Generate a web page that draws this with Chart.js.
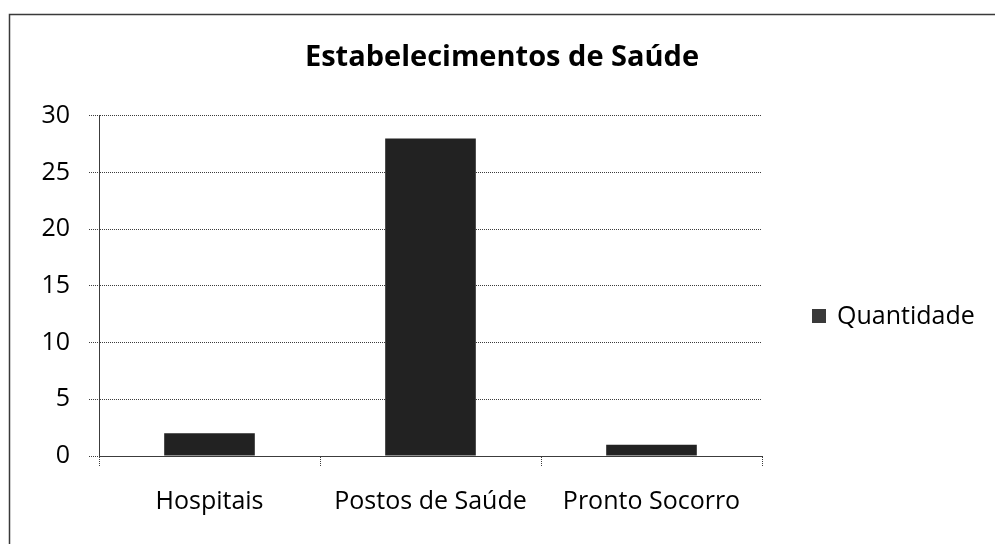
<!DOCTYPE html>
<html>
<head>
<meta charset="utf-8">
<script src="https://cdn.jsdelivr.net/npm/chart.js@4/dist/chart.umd.min.js"></script>
<style>
  html, body { margin: 0; padding: 0; background: #ffffff; }
  #wrap { width: 995px; height: 544px; position: relative; }
</style>
</head>
<body>
<div id="wrap"><canvas id="chart" width="995" height="544"></canvas></div>
<script>
// Chart content
const chartTitle = 'Estabelecimentos de Saúde';
const categories = ['Hospitais', 'Postos de Saúde', 'Pronto Socorro'];
const seriesName = 'Quantidade';
const quantidade = [2, 28, 1];
const yTicks = [0, 5, 10, 15, 20, 25, 30];

const FONT = '"Open Sans", "Noto Sans", sans-serif';
const BAR_COLOR = '#222222';
const GRID_COLOR = '#3c3c3c';
const DOTS = [1, 1];

// Thin outer frame of the chart object (left and top edges)
const framePlugin = {
  id: 'frame',
  beforeDraw(chart) {
    const ctx = chart.ctx;
    ctx.save();
    ctx.strokeStyle = '#3a3a3a';
    ctx.lineWidth = 1.5;
    ctx.beginPath();
    ctx.moveTo(9.5, chart.height);
    ctx.lineTo(9.5, 14.5);
    ctx.lineTo(chart.width, 14.5);
    ctx.stroke();
    ctx.restore();
  }
};

// Legend drawn as its own layout box on the right side
const sideLegendPlugin = {
  id: 'sideLegend',
  beforeInit(chart) {
    const box = {
      position: 'right',
      weight: 100,
      fullSize: false,
      options: {},
      left: 0, top: 0, right: 0, bottom: 0, width: 0, height: 0,
      isHorizontal() { return false; },
      update(maxWidth, maxHeight) {
        this.width = 233;
        this.height = maxHeight;
      },
      draw() {
        const ds = chart.data.datasets[0];
        const ctx = chart.ctx;
        const x = this.left + 50;
        const yMid = 317;
        ctx.save();
        ctx.fillStyle = '#3a3a3a';
        ctx.fillRect(x, yMid - 8, 14, 14);
        ctx.fillStyle = '#000000';
        ctx.font = '25px ' + FONT;
        ctx.textBaseline = 'middle';
        ctx.textAlign = 'left';
        ctx.fillText(ds.label, x + 25, yMid);
        ctx.restore();
      }
    };
    Chart.layouts.addBox(chart, box);
  }
};

new Chart(document.getElementById('chart'), {
  type: 'bar',
  data: {
    labels: categories,
    datasets: [{
      label: seriesName,
      data: quantidade,
      backgroundColor: BAR_COLOR,
      borderWidth: 0,
      categoryPercentage: 1.0,
      barPercentage: 0.41
    }]
  },
  options: {
    responsive: false,
    animation: false,
    layout: { padding: { left: 9, right: 0, top: 0, bottom: 0 } },
    plugins: {
      legend: { display: false },
      tooltip: { enabled: false },
      title: {
        display: true,
        text: chartTitle,
        color: '#000000',
        font: { family: FONT, size: 29, weight: 'bold' },
        padding: { top: 40, bottom: 41 }
      }
    },
    scales: {
      x: {
        offset: true,
        grid: {
          offset: true,
          drawOnChartArea: false,
          drawTicks: true,
          tickLength: 10,
          tickColor: GRID_COLOR,
          tickBorderDash: DOTS,
          tickWidth: 1
        },
        border: { display: true, color: GRID_COLOR, dash: DOTS, width: 1 },
        ticks: {
          color: '#000000',
          font: { family: FONT, size: 25 },
          padding: 21,
          maxRotation: 0
        },
        afterFit(scale) { scale.height = 88; }
      },
      y: {
        min: 0,
        max: 30,
        afterBuildTicks(scale) { scale.ticks = yTicks.map(v => ({ value: v })); },
        grid: {
          color: GRID_COLOR,
          borderDash: DOTS,
          lineWidth: 1,
          drawTicks: true,
          tickLength: 10,
          tickColor: GRID_COLOR,
          tickBorderDash: DOTS
        },
        border: { display: true, color: GRID_COLOR, dash: DOTS, width: 1 },
        ticks: {
          color: '#000000',
          font: { family: FONT, size: 25 },
          padding: 19
        },
        afterFit(scale) { scale.width = 90; }
      }
    }
  },
  plugins: [framePlugin, sideLegendPlugin]
});
</script>
</body>
</html>
